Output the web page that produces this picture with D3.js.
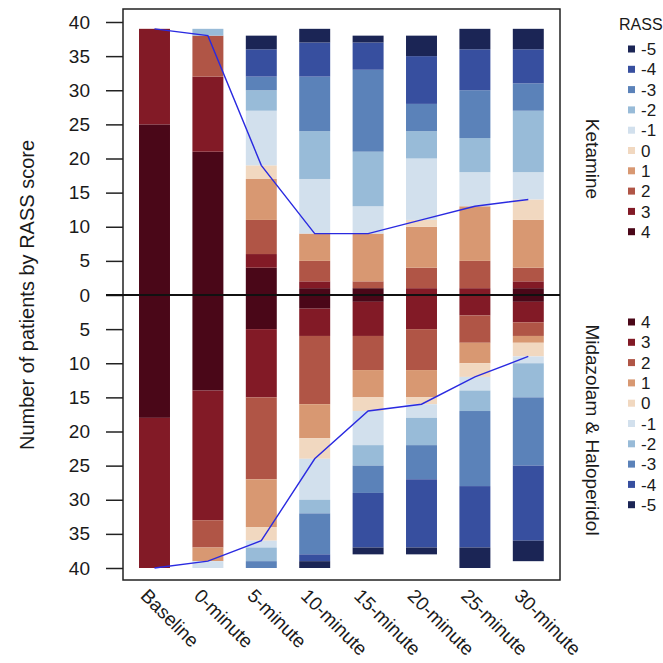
<!DOCTYPE html>
<html><head><meta charset="utf-8">
<script src="https://cdn.jsdelivr.net/npm/d3@7"></script>
<style>
html,body{margin:0;padding:0;background:#fff;}
text{font-family:"Liberation Sans",Arial,sans-serif;fill:#1a1a1a;}
</style></head>
<body><svg id="chart" width="663" height="663"></svg>
<script>
// ---- data ----
const times = ["Baseline","0-minute","5-minute","10-minute","15-minute","20-minute","25-minute","30-minute"];
const levels = ["4","3","2","1","0","-1","-2","-3","-4","-5"]; // stacking order from zero outward
const legendTop = ["-5","-4","-3","-2","-1","0","1","2","3","4"];
const legendBottom = ["4","3","2","1","0","-1","-2","-3","-4","-5"];
const levelColors = ["#4a0718","#821a26","#b05546","#d89872","#f1d8c0","#d2e0ed","#98bbd8","#5b82b9","#374f9f","#1b2555"];
const yTicks = [-40,-35,-30,-25,-20,-15,-10,-5,0,5,10,15,20,25,30,35,40];

// Ketamine counts by RASS level (rows follow `levels`)
const ket4  = [25,21,4,1,1,0,0,1];
const ket3  = [14,11,2,1,0,1,1,1];
const ket2  = [0,6,5,3,1,3,4,2];
const ket1  = [0,0,6,4,7,6,8,7];
const ket0  = [0,0,2,0,0,1,0,3];
const ketm1 = [0,0,8,8,4,9,5,4];
const ketm2 = [0,1,3,7,8,4,5,9];
const ketm3 = [0,0,2,8,12,4,7,4];
const ketm4 = [0,0,4,5,4,7,6,5];
const ketm5 = [0,0,2,2,1,3,3,3];
const ketLine = [39,38,19,9,9,11,13,14];

// Midazolam & Haloperidol counts
const mid4  = [18,14,5,2,1,0,0,1];
const mid3  = [22,19,10,4,5,5,3,3];
const mid2  = [0,4,12,10,5,6,4,2];
const mid1  = [0,2,7,5,4,4,3,1];
const mid0  = [0,0,2,3,2,1,2,2];
const midm1 = [0,1,1,6,5,2,2,1];
const midm2 = [0,0,2,2,3,4,3,5];
const midm3 = [0,0,1,6,4,5,11,10];
const midm4 = [0,0,0,1,8,10,9,11];
const midm5 = [0,0,0,1,1,1,3,3];
const midLine = [40,39,36,24,17,16,12,9];

const ketRows = [ket4,ket3,ket2,ket1,ket0,ketm1,ketm2,ketm3,ketm4,ketm5];
const midRows = [mid4,mid3,mid2,mid1,mid0,midm1,midm2,midm3,midm4,midm5];

// ---- layout ----
const svg = d3.select("#chart");
const plotL = 123, plotR = 560, plotT = 9, plotB = 580;
const x = d3.scaleBand().domain(times).range([127.8,555]).paddingInner(0.42).paddingOuter(0.21);
const y = d3.scaleLinear().domain([-40,40]).range([568,22]);
const color = d3.scaleOrdinal().domain(levels).range(levelColors);

function tableFor(rows){
  return times.map((t,i)=>{ const o={time:t}; levels.forEach((l,j)=>o[l]=rows[j][i]); return o; });
}
const stack = d3.stack().keys(levels);
const ketStack = stack(tableFor(ketRows));
const midStack = stack(tableFor(midRows));

const gBars = svg.append("g");
// Ketamine: upward
ketStack.forEach(s=>{
  gBars.selectAll(null).data(s).join("rect")
    .attr("x",d=>x(d.data.time)).attr("width",x.bandwidth())
    .attr("y",d=>y(d[1])).attr("height",d=>y(d[0])-y(d[1]))
    .attr("fill",color(s.key));
});
// Midazolam: downward
midStack.forEach(s=>{
  gBars.selectAll(null).data(s).join("rect")
    .attr("x",d=>x(d.data.time)).attr("width",x.bandwidth())
    .attr("y",d=>y(-d[0])).attr("height",d=>y(-d[1])-y(-d[0]))
    .attr("fill",color(s.key));
});

// lines
const lineK = d3.line().x((d,i)=>x(times[i])+x.bandwidth()/2).y(d=>y(d));
const lineM = d3.line().x((d,i)=>x(times[i])+x.bandwidth()/2).y(d=>y(-d));
svg.append("path").attr("d",lineK(ketLine)).attr("fill","none").attr("stroke","#2a2ae0").attr("stroke-width",1.4);
svg.append("path").attr("d",lineM(midLine)).attr("fill","none").attr("stroke","#2a2ae0").attr("stroke-width",1.4);

// frame
svg.append("rect").attr("x",plotL).attr("y",plotT).attr("width",plotR-plotL).attr("height",plotB-plotT)
  .attr("fill","none").attr("stroke","#222").attr("stroke-width",1.5);

// y axis
const yAxis = d3.axisLeft(y).tickValues(yTicks).tickFormat(d=>Math.abs(d)).tickSize(17).tickPadding(16);
const gy = svg.append("g").attr("transform",`translate(${plotL},0)`).call(yAxis);
gy.select(".domain").remove();
gy.selectAll(".tick line").attr("stroke","#222").attr("stroke-width",1.5);
gy.selectAll(".tick text").style("font-size","19px").style("font-family","Liberation Sans, Arial, sans-serif").attr("fill","#1a1a1a");

// zero line
svg.append("line").attr("x1",plotL-17).attr("x2",plotR).attr("y1",y(0)).attr("y2",y(0))
  .attr("stroke","#111").attr("stroke-width",2);

// x labels
svg.append("g").selectAll("text").data(times).join("text")
  .attr("transform",d=>`translate(${x(d)+x.bandwidth()/2-15},597) rotate(45)`)
  .attr("text-anchor","start").style("font-size","19px").text(d=>d);

// y title
svg.append("text").attr("transform",`translate(34,${y(0)}) rotate(-90)`)
  .attr("text-anchor","middle").style("font-size","20px").text("Number of patients by RASS score");

// facet labels
svg.append("text").attr("transform",`translate(586,159) rotate(90)`).attr("text-anchor","middle")
  .style("font-size","19px").text("Ketamine");
svg.append("text").attr("transform",`translate(586,430) rotate(90)`).attr("text-anchor","middle")
  .style("font-size","19px").text("Midazolam & Haloperidol");

// legends
svg.append("text").attr("x",619).attr("y",30).style("font-size","16px").text("RASS");
function legend(keys, y0){
  const g = svg.append("g");
  keys.forEach((k,i)=>{
    const yy = y0 + i*20.3;
    g.append("rect").attr("x",628).attr("y",yy-3.5).attr("width",7).attr("height",7).attr("fill",color(k));
    g.append("text").attr("x",641).attr("y",yy).attr("dy","0.36em").style("font-size","17px").text(k);
  });
}
legend(legendTop, 49);
legend(legendBottom, 322);
</script></body></html>
